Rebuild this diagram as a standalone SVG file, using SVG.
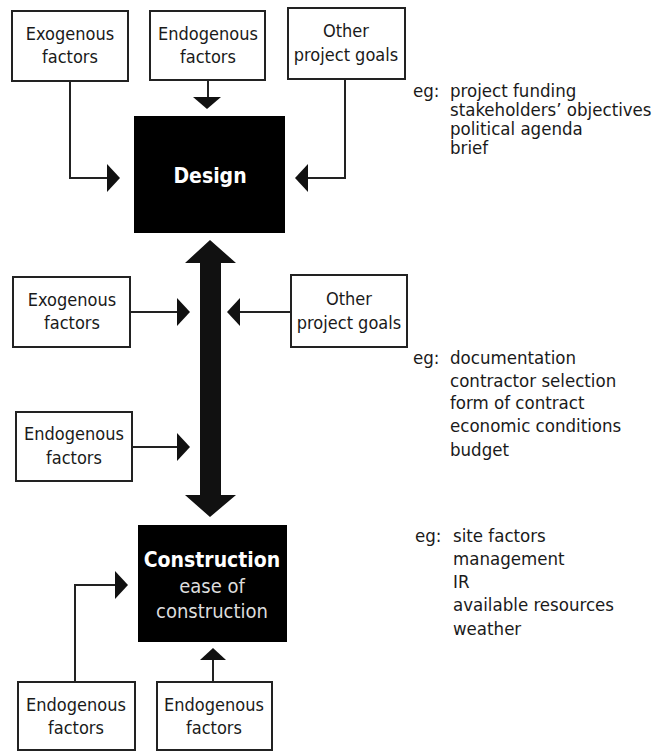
<svg xmlns="http://www.w3.org/2000/svg" width="653" height="751" viewBox="0 0 653 751">
  <style>
    .box { fill: #fff; stroke: #222; stroke-width: 2; }
    .dark { fill: #000; }
    .lbl { font-family: "Liberation Sans Narrow", "DejaVu Sans Condensed", "Liberation Sans", sans-serif; font-size: 18px; fill: #1a1a1a; text-anchor: middle; }
    .title { font-family: "Liberation Sans Narrow", "DejaVu Sans Condensed", "Liberation Sans", sans-serif; font-size: 21px; font-weight: bold; fill: #fff; text-anchor: middle; }
    .sub { font-family: "Liberation Sans Narrow", "DejaVu Sans Condensed", "Liberation Sans", sans-serif; font-size: 20px; fill: #ddd; text-anchor: middle; }
    .note { font-family: "Liberation Sans Narrow", "DejaVu Sans Condensed", "Liberation Sans", sans-serif; font-size: 18.5px; fill: #1a1a1a; }
    .line { fill: none; stroke: #222; stroke-width: 2; }
    .head { fill: #111; }
  </style>

  <!-- connectors -->
  <g id="connectors">
    <!-- into Design -->
    <polyline class="line" points="70,81 70,178 108,178"/>
    <polygon class="head" points="120,178 107,164 107,192"/>
    <line class="line" x1="208" y1="80" x2="208" y2="98"/>
    <polygon class="head" points="207,109 193,97 221,97"/>
    <polyline class="line" points="345,79 345,178 307,178"/>
    <polygon class="head" points="295,178 308,164 308,192"/>
    <!-- Design / Construction double arrow -->
    <polygon class="head" points="210,240 236,263 221,263 221,495 236,495 210,517 185,495 200,495 200,263 185,263"/>
    <!-- side inputs onto the double arrow -->
    <line class="line" x1="130" y1="312" x2="178" y2="312"/>
    <polygon class="head" points="190,312 177,298 177,326"/>
    <line class="line" x1="291" y1="312" x2="240" y2="312"/>
    <polygon class="head" points="227,312 240,298 240,326"/>
    <line class="line" x1="132" y1="447" x2="178" y2="447"/>
    <polygon class="head" points="190,447 177,433 177,461"/>
    <!-- into Construction -->
    <polyline class="line" points="75,682 75,585 116,585"/>
    <polygon class="head" points="128,585 115,571 115,599"/>
    <line class="line" x1="213" y1="682" x2="213" y2="659"/>
    <polygon class="head" points="213,648 200,660 226,660"/>
  </g>

  <!-- top row -->
  <g id="exo-top">
    <rect class="box" x="12" y="11" width="116" height="70"/>
    <text class="lbl" x="70" y="40">Exogenous</text>
    <text class="lbl" x="70" y="63">factors</text>
  </g>
  <g id="endo-top">
    <rect class="box" x="150" y="11" width="115" height="69"/>
    <text class="lbl" x="208" y="40">Endogenous</text>
    <text class="lbl" x="208" y="63">factors</text>
  </g>
  <g id="goals-top">
    <rect class="box" x="288" y="8" width="117" height="71"/>
    <text class="lbl" x="346" y="37">Other</text>
    <text class="lbl" x="346" y="61">project goals</text>
  </g>

  <g id="design">
    <rect class="dark" x="134" y="116" width="151" height="117"/>
    <text class="title" x="210" y="183">Design</text>
  </g>

  <!-- middle inputs -->
  <g id="exo-mid">
    <rect class="box" x="13" y="277" width="117" height="70"/>
    <text class="lbl" x="72" y="306">Exogenous</text>
    <text class="lbl" x="72" y="329">factors</text>
  </g>
  <g id="goals-mid">
    <rect class="box" x="291" y="275" width="116" height="72"/>
    <text class="lbl" x="349" y="305">Other</text>
    <text class="lbl" x="349" y="329">project goals</text>
  </g>
  <g id="endo-mid">
    <rect class="box" x="16" y="412" width="116" height="69"/>
    <text class="lbl" x="74" y="440">Endogenous</text>
    <text class="lbl" x="74" y="464">factors</text>
  </g>

  <g id="construction">
    <rect class="dark" x="138" y="525" width="149" height="117"/>
    <text class="title" x="212" y="567">Construction</text>
    <text class="sub" x="212" y="593">ease of</text>
    <text class="sub" x="212" y="618">construction</text>
  </g>

  <!-- bottom inputs -->
  <g id="endo-bottom-left">
    <rect class="box" x="18" y="682" width="117" height="68"/>
    <text class="lbl" x="76" y="711">Endogenous</text>
    <text class="lbl" x="76" y="734">factors</text>
  </g>
  <g id="endo-bottom-right">
    <rect class="box" x="157" y="682" width="115" height="68"/>
    <text class="lbl" x="214" y="711">Endogenous</text>
    <text class="lbl" x="214" y="734">factors</text>
  </g>

  <!-- example lists -->
  <g id="notes-design">
    <text class="note" x="413" y="97">eg:</text>
    <text class="note" x="450" y="97">project funding</text>
    <text class="note" x="450" y="116">stakeholders’ objectives</text>
    <text class="note" x="450" y="135">political agenda</text>
    <text class="note" x="450" y="154">brief</text>
  </g>
  <g id="notes-procurement">
    <text class="note" x="413" y="364">eg:</text>
    <text class="note" x="450" y="364">documentation</text>
    <text class="note" x="450" y="387">contractor selection</text>
    <text class="note" x="450" y="409">form of contract</text>
    <text class="note" x="450" y="432">economic conditions</text>
    <text class="note" x="450" y="456">budget</text>
  </g>
  <g id="notes-construction">
    <text class="note" x="415" y="542">eg:</text>
    <text class="note" x="453" y="542">site factors</text>
    <text class="note" x="453" y="565">management</text>
    <text class="note" x="453" y="588">IR</text>
    <text class="note" x="453" y="611">available resources</text>
    <text class="note" x="453" y="635">weather</text>
  </g>
</svg>
